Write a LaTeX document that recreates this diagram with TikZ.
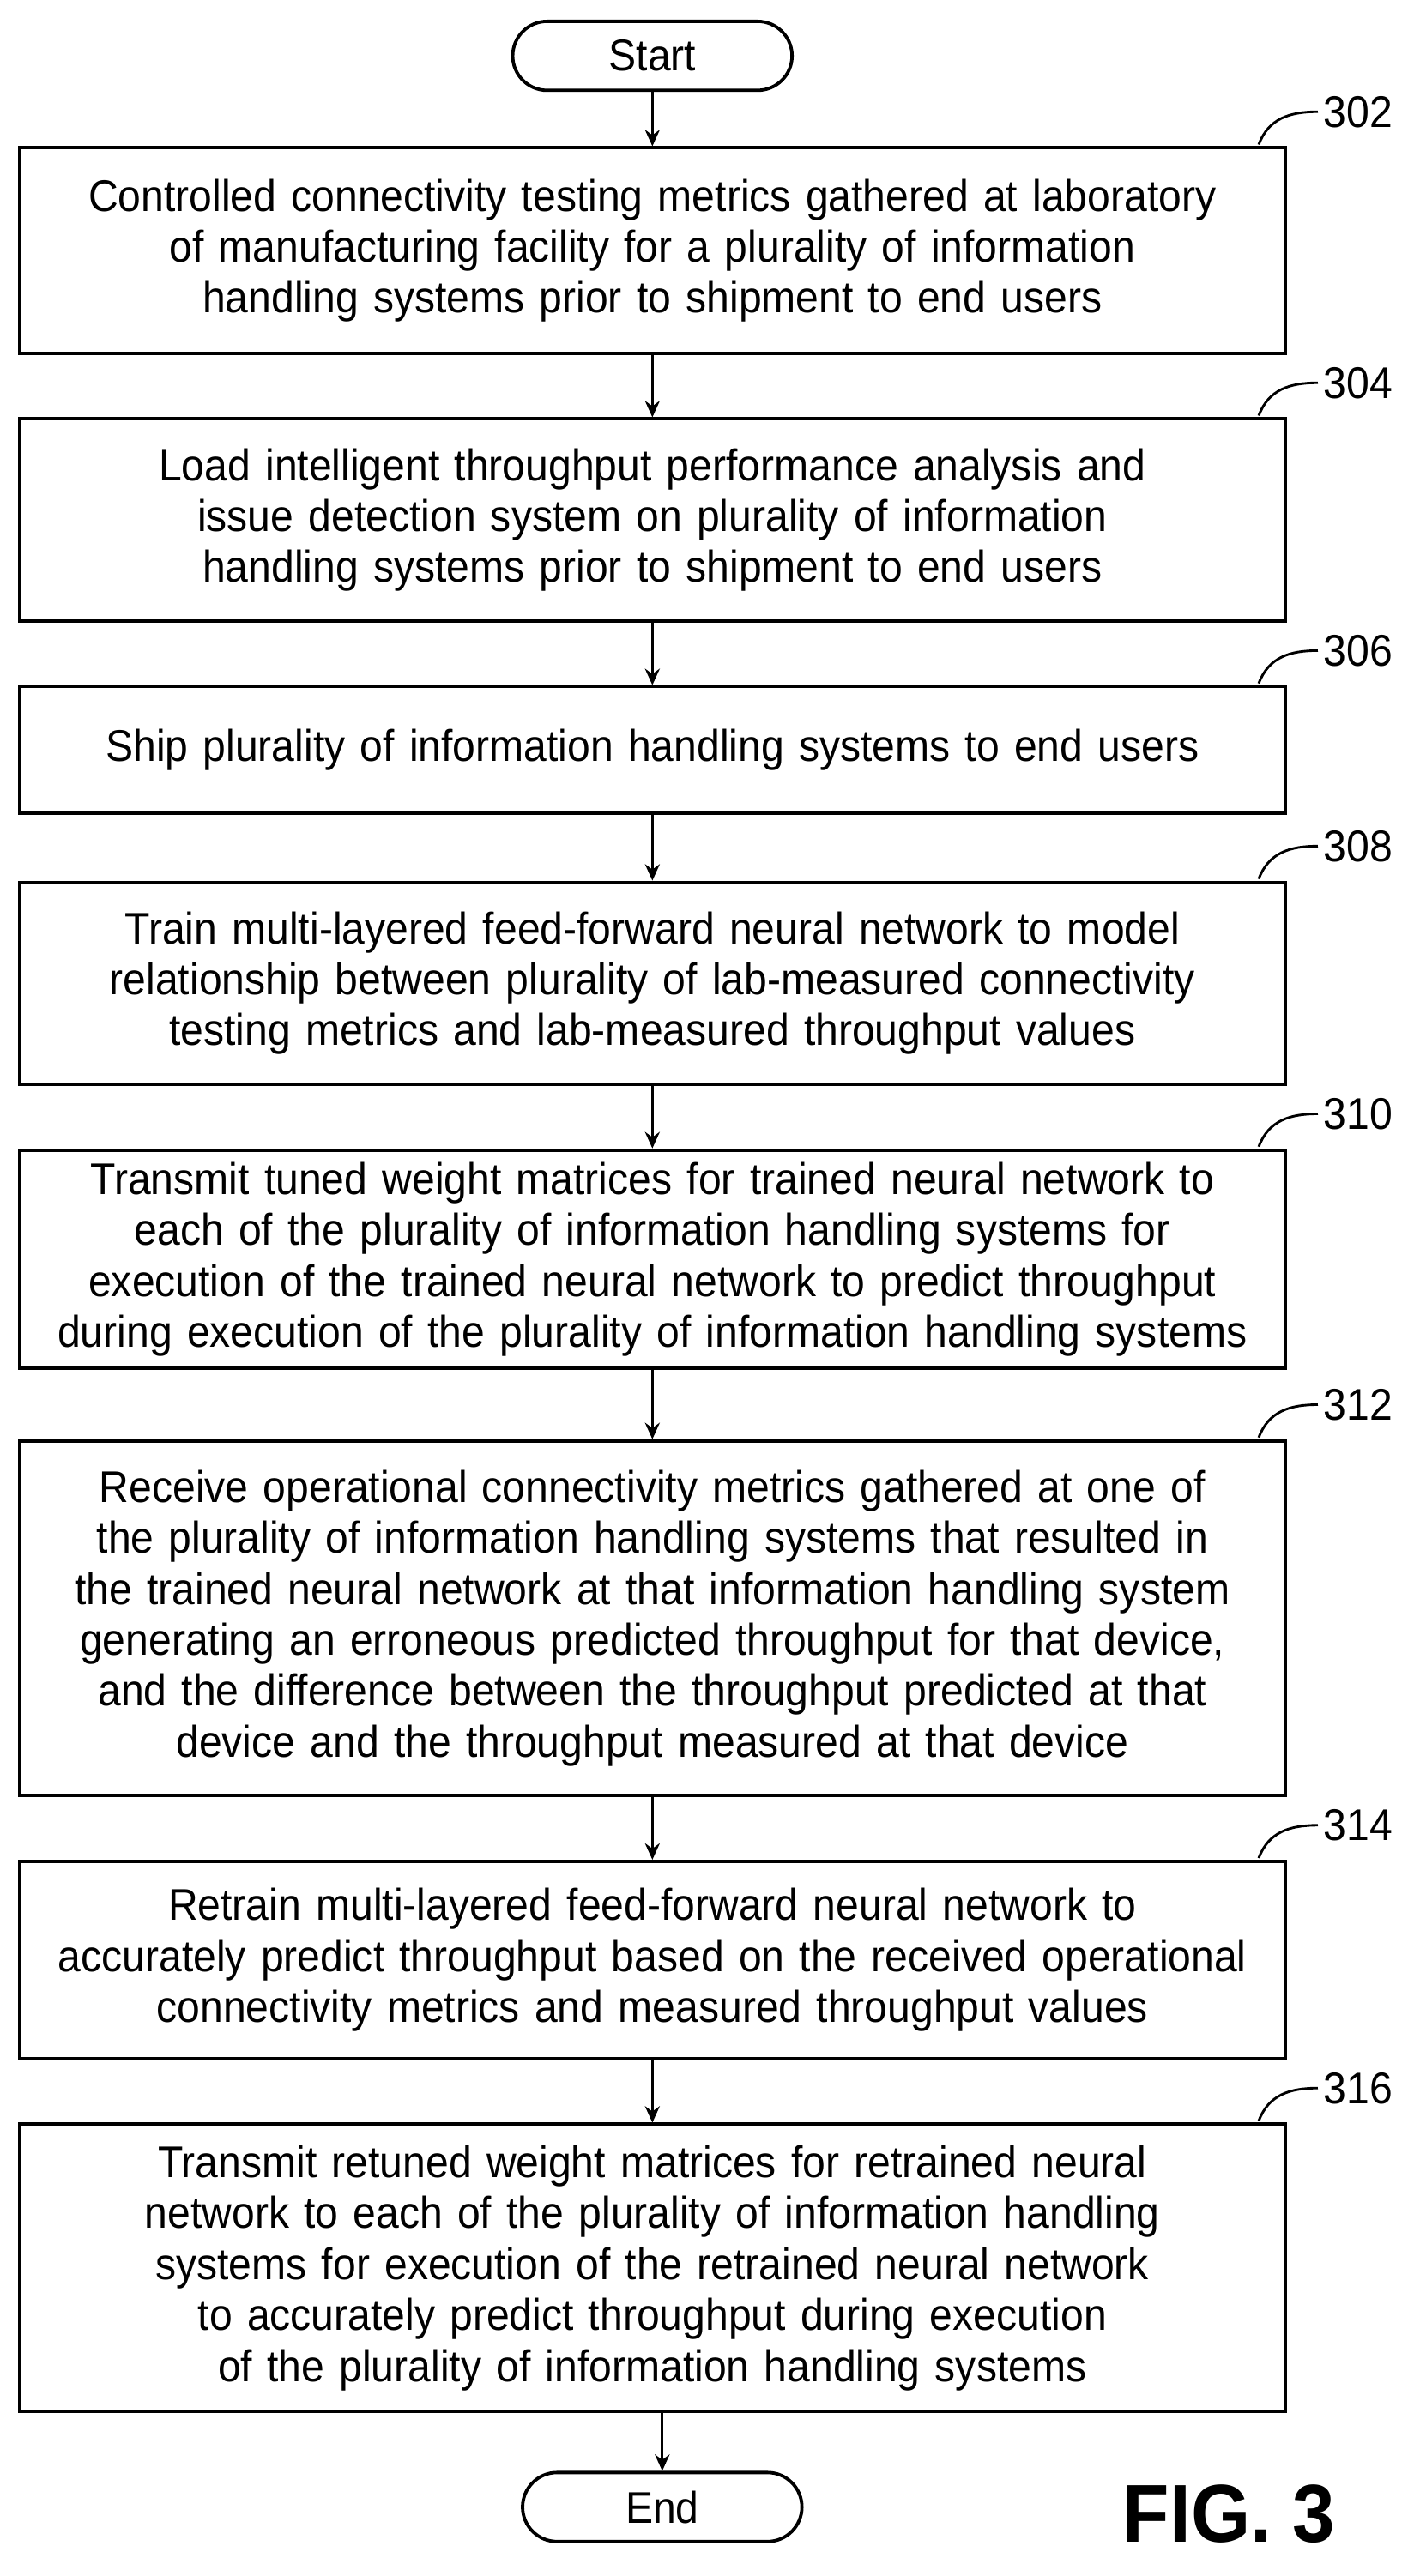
\documentclass[tikz,border=0pt]{standalone}
\usepackage{fontspec}
\setmainfont{Liberation Sans}[FakeStretch=0.93]
\usetikzlibrary{arrows.meta}
\begin{document}
\begin{tikzpicture}[x=1pt,y=-1pt,
 box/.style={draw,line width=2pt,minimum width=770pt,text width=770pt,align=center,font=\fontsize{27}{31}\selectfont,inner sep=0pt},
 term/.style={draw,line width=2pt,rounded corners=21pt,minimum width=170pt,minimum height=42pt,font=\fontsize{27}{30}\selectfont},
 arr/.style={-{Stealth[length=10pt,width=9pt]},line width=1.5pt},
 lab/.style={font=\fontsize{27}{30}\selectfont},
 lead/.style={line width=1.5pt}]
\useasboundingbox (0,0) rectangle (860,1568);
\node[term] (s) at (397,34) {Start};
\node[box,minimum height=125pt] (b302) at (397,152.5) {Controlled connectivity testing metrics gathered at laboratory\\of manufacturing facility for a plurality of information\\handling systems prior to shipment to end users};
\node[box,minimum height=123pt] (b304) at (397,316.5) {Load intelligent throughput performance analysis and\\issue detection system on plurality of information\\handling systems prior to shipment to end users};
\node[box,minimum height=77pt] (b306) at (397,456.5) {Ship plurality of information handling systems to end users};
\node[box,minimum height=123pt] (b308) at (397,598.5) {Train multi-layered feed-forward neural network to model\\relationship between plurality of lab-measured connectivity\\testing metrics and lab-measured throughput values};
\node[box,minimum height=133pt] (b310) at (397,766.5) {Transmit tuned weight matrices for trained neural network to\\each of the plurality of information handling systems for\\execution of the trained neural network to predict throughput\\during execution of the plurality of information handling systems};
\node[box,minimum height=216pt] (b312) at (397,985) {Receive operational connectivity metrics gathered at one of\\the plurality of information handling systems that resulted in\\the trained neural network at that information handling system\\generating an erroneous predicted throughput for that device,\\and the difference between the throughput predicted at that\\device and the throughput measured at that device};
\node[box,minimum height=120pt] (b314) at (397,1193) {Retrain multi-layered feed-forward neural network to\\accurately predict throughput based on the received operational\\connectivity metrics and measured throughput values};
\node[box,minimum height=175pt] (b316) at (397,1380.5) {Transmit retuned weight matrices for retrained neural\\network to each of the plurality of information handling\\systems for execution of the retrained neural network\\to accurately predict throughput during execution\\of the plurality of information handling systems};
\node[term] (e) at (403,1526) {End};
\draw[arr] (s) -- (s|-b302.north);
\draw[arr] (b302) -- (b304);
\draw[arr] (b304) -- (b306);
\draw[arr] (b306) -- (b308);
\draw[arr] (b308) -- (b310);
\draw[arr] (b310) -- (b312);
\draw[arr] (b312) -- (b314);
\draw[arr] (b314) -- (b316);
\draw[arr] (b316.south-|e) -- (e);
\foreach \n/\y in {302/90,304/255,306/418,308/537,310/700,312/877,314/1133,316/1293}{
  \node[lab,anchor=west] (l\n) at (802,\y-22) {\n};
  \draw[lead] (766,\y-2) .. controls (772,\y-18) and (785,\y-22) .. (l\n.west);
}
\node[font=\fontsize{50}{56}\selectfont\bfseries] (fig) at (748,1530) {FIG. 3};
\end{tikzpicture}
\end{document}
